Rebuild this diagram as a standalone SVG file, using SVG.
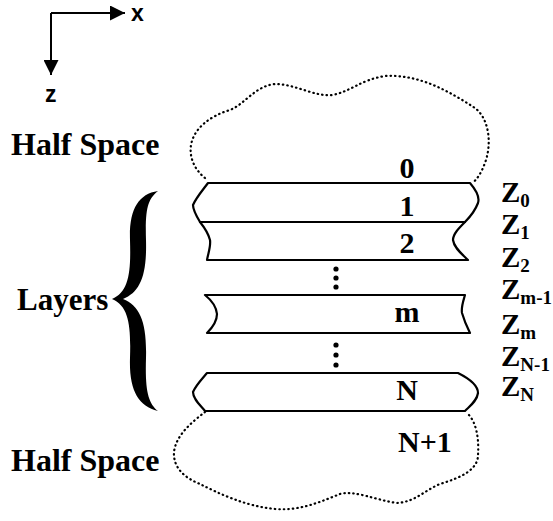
<svg xmlns="http://www.w3.org/2000/svg" width="553" height="521" viewBox="0 0 553 521">
<style>
.lbl{font-family:"Liberation Serif",serif;font-weight:bold;fill:#000}
.ax{font-family:"Liberation Sans",sans-serif;font-weight:bold;fill:#000;font-size:23px}
.layer{fill:#fff;stroke:#000;stroke-width:2.2;stroke-linejoin:round}
.cloud{fill:none;stroke:#000;stroke-width:2.2;stroke-linecap:round;stroke-dasharray:0.5 4}
.dot{fill:#000}
.sub{font-size:19px}
</style>
<defs>
<marker id="ah" viewBox="0 0 10 10" refX="10" refY="5" markerWidth="15" markerHeight="15" markerUnits="userSpaceOnUse" orient="auto">
<path d="M0,0 L10,5 L0,10 Z" fill="#000"/>
</marker>
</defs>
<g id="axes">
<line x1="51" y1="13" x2="125" y2="13" stroke="#000" stroke-width="2" marker-end="url(#ah)"/>
<line x1="51" y1="13" x2="51" y2="75" stroke="#000" stroke-width="2" marker-end="url(#ah)"/>
<text class="ax" x="131" y="21">x</text>
<text class="ax" x="45" y="102">z</text>
</g>
<g id="top-half-space">
<path class="cloud" d="M205,178 C195,170 189,158 191,145 C194,128 210,116 230,110 C245,104 255,86 275,84 C295,84 315,97 332,95 C350,92 360,80 385,76 C420,74 450,92 475,108 C488,118 492,140 486,160 C482,172 477,180 472,183"/>
<text class="lbl" x="11" y="155" font-size="32">Half Space</text>
<text class="lbl" x="407" y="178" font-size="30" text-anchor="middle">0</text>
</g>
<g id="bottom-half-space">
<path class="cloud" d="M205,412 C192,422 176,435 174,452 C173,468 185,478 200,484 C220,494 245,506 275,509 C300,511 320,502 340,494 C355,490 375,500 397,503 C415,502 425,490 440,484 C460,478 478,470 478,455 C479,440 477,422 467,413"/>
<text class="lbl" x="11" y="471" font-size="32">Half Space</text>
<text class="lbl" x="425" y="452" font-size="30" text-anchor="middle">N+1</text>
</g>
<g id="layer-1">
<path class="layer" d="M208,183 L470,183 C476,190 480,197 478,203 C475,211 470,217 465,222 L200,222 C197,217 193,210 193,205 C196,198 202,191 208,183 Z"/>
<text class="lbl" x="407" y="216" font-size="30" text-anchor="middle">1</text>
</g>
<g id="layer-2">
<path class="layer" d="M200,222 L465,222 C459,228 453,234 453,240 C454,248 462,254 468,260 L207,260 C208,254 211,246 210,240 C208,232 204,227 200,222 Z"/>
<text class="lbl" x="407" y="253" font-size="30" text-anchor="middle">2</text>
</g>
<g id="layer-m">
<path class="layer" d="M205,295 L465,295 C463,302 461,307 462,313 C464,320 467,327 470,333 L207,333 C212,328 217,322 217,314 C216,305 210,299 205,295 Z"/>
<text class="lbl" x="407" y="322" font-size="30" text-anchor="middle">m</text>
</g>
<g id="layer-N">
<path class="layer" d="M207,373 L458,373 C468,378 478,385 478,393 C477,401 470,406 465,411 L205,411 C200,405 193,399 193,392 C196,385 202,379 207,373 Z"/>
<text class="lbl" x="407" y="400" font-size="30" text-anchor="middle">N</text>
</g>
<g id="ellipsis">
<circle class="dot" cx="336" cy="269" r="2.6"/>
<circle class="dot" cx="336" cy="278" r="2.6"/>
<circle class="dot" cx="336" cy="287" r="2.6"/>
<circle class="dot" cx="336" cy="345" r="2.6"/>
<circle class="dot" cx="336" cy="355" r="2.6"/>
<circle class="dot" cx="336" cy="365" r="2.6"/>
</g>
<g id="layers-brace">
<path fill="#000" d="M158,191 C138,194 129,210 130,240 C131,272 129,292 112,299 C129,306 131,326 130,358 C129,390 138,406 158,411 C148,403 145,390 146,358 C147,322 140,306 123,299 C140,292 147,276 146,240 C145,208 148,199 158,191 Z"/>
<text class="lbl" x="17" y="310" font-size="31">Layers</text>
</g>
<g id="z-labels" class="lbl" font-size="29">
<text x="501" y="202">Z<tspan class="sub" dy="5">0</tspan></text>
<text x="501" y="234">Z<tspan class="sub" dy="5">1</tspan></text>
<text x="501" y="267">Z<tspan class="sub" dy="5">2</tspan></text>
<text x="501" y="299">Z<tspan class="sub" dy="5">m-1</tspan></text>
<text x="501" y="334">Z<tspan class="sub" dy="5">m</tspan></text>
<text x="501" y="366">Z<tspan class="sub" dy="5">N-1</tspan></text>
<text x="501" y="396">Z<tspan class="sub" dy="5">N</tspan></text>
</g>
<g id="connectors"></g>
</svg>
